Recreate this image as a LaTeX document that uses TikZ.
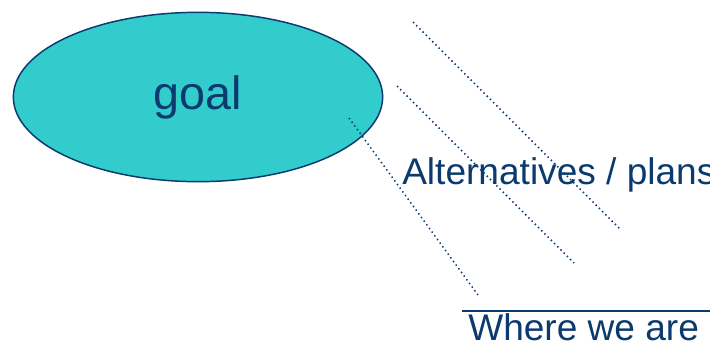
\documentclass[tikz,border=0pt]{standalone}
\usepackage{fontspec}
\setmainfont{Liberation Sans}
\usepackage{tikz}
\usetikzlibrary{shapes.geometric}
\definecolor{navy}{HTML}{0B3A6E}
\definecolor{teal}{HTML}{33CCCC}

\begin{document}
\begin{tikzpicture}[x=0.75pt,y=-0.75pt,
    plan/.style={navy,line width=1.1pt,dash pattern=on 1.1pt off 2.3pt},
    words/.style={navy,anchor=base west,inner sep=0pt,font=\fontsize{27.8}{32}\selectfont}]
                \clip (0,0) rectangle (710,350);
                \useasboundingbox (0,0) rectangle (710,350);

                \node[ellipse,draw=navy,line width=1.1pt,fill=teal,minimum width=277pt,minimum height=127pt,
                      text=navy,font=\fontsize{35}{40}\selectfont] (goal) at (198,97) {goal};

                \coordinate (a1) at (413,22);  \coordinate (a2) at (621,230);
                \coordinate (b1) at (397,86);  \coordinate (b2) at (574,263);
                \coordinate (c1) at (349,118); \coordinate (c2) at (478,295);
                \draw[plan] (a1) -- (a2);
                \draw[plan] (b1) -- (b2);
                \draw[plan] (c1) -- (c2);

                \node[words] (alt) at (402,184) {Alternatives / plans};

                \coordinate (here1) at (462,311); \coordinate (here2) at (712,311);
                \draw[navy,line width=1.5pt] (here1) -- (here2);
                \node[words] (here) at (468,340) {Where we are};
             \end{tikzpicture}
\end{document}
